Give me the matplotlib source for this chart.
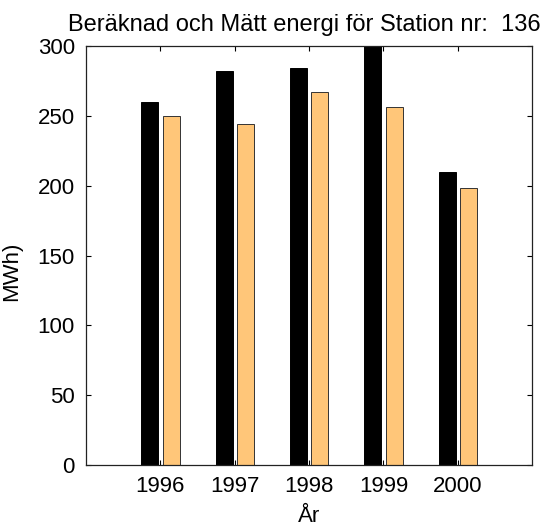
import numpy as np
import matplotlib
matplotlib.use("Agg")
import matplotlib.pyplot as plt

"""
## Data: computed (black) and measured (orange) energy per year
"""
years = ["1996", "1997", "1998", "1999", "2000"]
beraknad = [260, 282, 284, 305, 210]
matt = [250, 244, 267, 256, 198]
y_ticks = [0, 50, 100, 150, 200, 250, 300]

plt.rcParams["font.family"] = ["Liberation Sans", "DejaVu Sans"]

fig = plt.figure(figsize=(5.48, 5.28), dpi=100)
ax = fig.add_axes([0.157, 0.119, 0.814, 0.794])

x = np.arange(1, len(years) + 1)
width = 0.229
offset = 0.143

ax.bar(x - offset, beraknad, width, color="black", edgecolor="black", linewidth=0.7)
ax.bar(x + offset, matt, width, color="#FFC679", edgecolor="#333333", linewidth=0.7)

ax.set_xlim(0, 6)
ax.set_ylim(0, 300)
ax.set_xticks(x)
ax.set_xticklabels(years)
ax.set_yticks(y_ticks)

# MATLAB look: ticks inside on all four sides
ax.tick_params(direction="in", length=3.6, width=0.8, labelsize=16,
               top=True, right=True)
ax.tick_params(axis="x", pad=8)
ax.tick_params(axis="y", pad=8)
for s in ax.spines.values():
    s.set_linewidth(0.9)
    s.set_color("#222222")

ax.set_title("Beräknad och Mätt energi för Station nr:  136", fontsize=17, pad=11)
ax.title.set_x(0.49)
ax.set_xlabel("År", fontsize=16, labelpad=6)
ax.set_ylabel("MWh)", fontsize=16)
ax.yaxis.set_label_coords(-0.143, 0.463)

fig.savefig("out.png", dpi=100)
